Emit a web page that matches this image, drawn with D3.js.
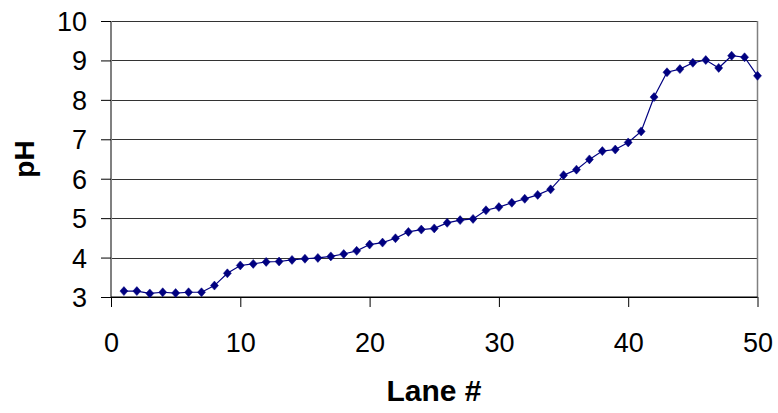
<!DOCTYPE html>
<html><head><meta charset="utf-8">
<script src="https://cdn.jsdelivr.net/npm/d3@7"></script>
<style>body{margin:0;background:#fff;}svg{display:block;font-family:Arial,"Liberation Sans",sans-serif;}</style>
</head><body>
<svg id="c" width="778" height="413"></svg>
<script>
const lanes = d3.range(1, 51);
const pH = [3.15,3.15,3.09,3.12,3.10,3.12,3.12,3.29,3.60,3.80,
            3.84,3.89,3.90,3.94,3.97,3.99,4.03,4.09,4.17,4.33,
            4.38,4.49,4.65,4.71,4.74,4.88,4.95,4.98,5.20,5.28,
            5.39,5.49,5.59,5.73,6.09,6.23,6.49,6.70,6.74,6.92,
            7.20,8.07,8.70,8.78,8.94,9.01,8.81,9.12,9.08,8.61];
const xTicks = [0,10,20,30,40,50];
const yTicks = [3,4,5,6,7,8,9,10];
const xLabel = "Lane #";
const yLabel = "pH";

const svg = d3.select("#c");
const x = d3.scaleLinear().domain([0,50]).range([111,757.5]);
const y = d3.scaleLinear().domain([3,10]).range([297,21]);

// gridlines
svg.append("g").selectAll("line").data(yTicks).join("line")
  .attr("x1",111).attr("x2",757.5)
  .attr("y1",d=>Math.round(y(d))+0.5).attr("y2",d=>Math.round(y(d))+0.5)
  .attr("stroke",d=>d===3?"#000":"#333").attr("stroke-width",1);

// right border
svg.append("line").attr("x1",757.5).attr("x2",757.5).attr("y1",21).attr("y2",297)
  .attr("stroke","#808080").attr("stroke-width",1.5);

// y axis
const yAxis = svg.append("g").attr("transform","translate(111,0)")
  .call(d3.axisLeft(y).tickValues(yTicks).tickSize(10).tickPadding(14).tickFormat(d3.format("d")));
yAxis.select(".domain").attr("stroke","#808080").attr("stroke-width",2).attr("d","M0,21V297");
yAxis.selectAll(".tick line").attr("stroke","#000");
yAxis.selectAll("text").attr("font-size",27).attr("font-family","Arial,'Liberation Sans',sans-serif").attr("fill","#000").attr("dy","0.35em");

// x axis
const xAxis = svg.append("g").attr("transform","translate(0,297)")
  .call(d3.axisBottom(x).tickValues(xTicks).tickSize(10).tickPadding(26).tickFormat(d3.format("d")));
xAxis.select(".domain").attr("stroke","#000").attr("d","M111,0H757.5");
xAxis.selectAll(".tick line").attr("stroke","#000");
xAxis.selectAll("text").attr("font-size",27).attr("font-family","Arial,'Liberation Sans',sans-serif").attr("fill","#000").attr("dy","0.71em");

// line
svg.append("path").datum(pH)
  .attr("fill","none").attr("stroke","#000080").attr("stroke-width",1.2)
  .attr("d", d3.line().x((d,i)=>x(lanes[i])).y(d=>y(d)));

// markers
svg.append("g").selectAll("path").data(pH).join("path")
  .attr("transform",(d,i)=>`translate(${x(lanes[i])},${y(d)})`)
  .attr("d","M0,-4.5L4,0L0,4.5L-4,0Z")
  .attr("fill","#000080").attr("stroke","#000080").attr("stroke-width",0.5);

// labels
svg.append("text").attr("x",434).attr("y",401).attr("text-anchor","middle")
  .attr("font-size",30).attr("font-weight","bold").text(xLabel);
svg.append("text").attr("transform","translate(34,159) rotate(-90)").attr("text-anchor","middle")
  .attr("font-size",28).attr("font-weight","bold").text(yLabel);
</script>
</body></html>
